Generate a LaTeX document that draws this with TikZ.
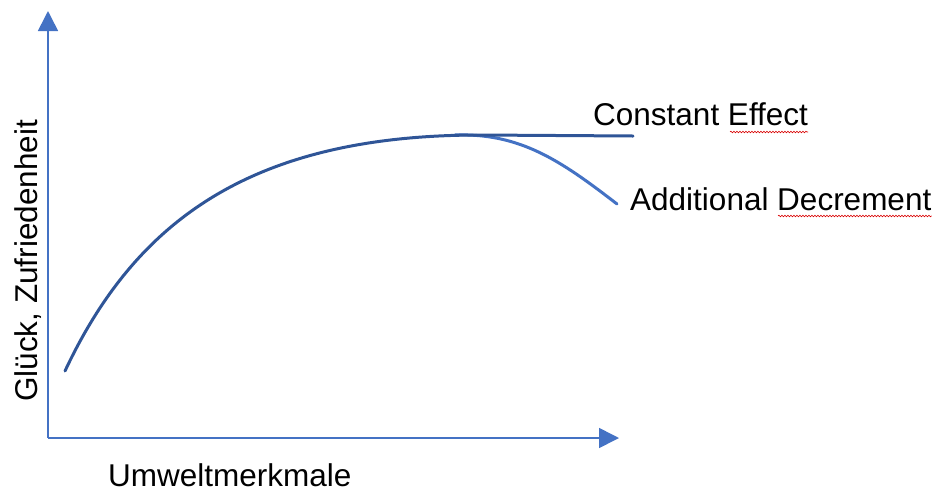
\documentclass[tikz,border=0pt]{standalone}
\usepackage{fontspec}
\setmainfont{Liberation Sans}
\usetikzlibrary{arrows.meta,decorations.pathmorphing}

\definecolor{axisblue}{HTML}{4472C4}
\definecolor{curveblue}{HTML}{2F5597}

\tikzset{
    axis/.style={draw=axisblue, line width=1.6pt, -{Triangle[length=20pt, width=20pt, fill=axisblue]}},
    curve/.style={draw=curveblue, line width=3pt, line cap=round},
    branch/.style={draw=axisblue, line width=3pt, line cap=round},
    label/.style={inner sep=0pt, font=\fontsize{31.5}{36}\selectfont},
    typo/.style={draw=red!85!black, line width=0.6pt, decorate, decoration={snake, amplitude=0.8pt, segment length=3pt}}
}

\begin{document}
\begin{tikzpicture}[x=1pt, y=-1pt]
            \useasboundingbox (0,0) rectangle (940,491);

            \coordinate (o) at (48, 438);
            \coordinate (ytop) at (48, 11);
            \coordinate (xend) at (619, 438);

            \coordinate (start) at (65, 371);
            \coordinate (flat) at (480, 135);
            \coordinate (split) at (455, 135);
            \coordinate (const) at (633, 136);
            \coordinate (decr) at (617, 204);

            \node[label, anchor=base west] (c) at (593, 125){Constant Effect};
            \node[label, anchor=base west] (d) at (630, 210){Additional Decrement};
            \node[label, anchor=base west] (x) at (108, 486){Umweltmerkmale};
            \node[label, anchor=base west, rotate=90] (y) at (37, 402){Glück, Zufriedenheit};

            \draw [axis] (o) -- (ytop);
            \draw [axis] (o) -- (xend);

            \draw [branch] (split) .. controls (520, 133) and (560, 160) .. (decr);
            \draw [curve] (start) .. controls (135, 222) and (250, 135) .. (flat) -- (const);

            \draw [typo] ([xshift=137pt, yshift=-7pt]c.base west) -- ([yshift=-7pt]c.base east);
            \draw [typo] ([xshift=148pt, yshift=-6pt]d.base west) -- ([yshift=-6pt]d.base east);
        \end{tikzpicture}
\end{document}
